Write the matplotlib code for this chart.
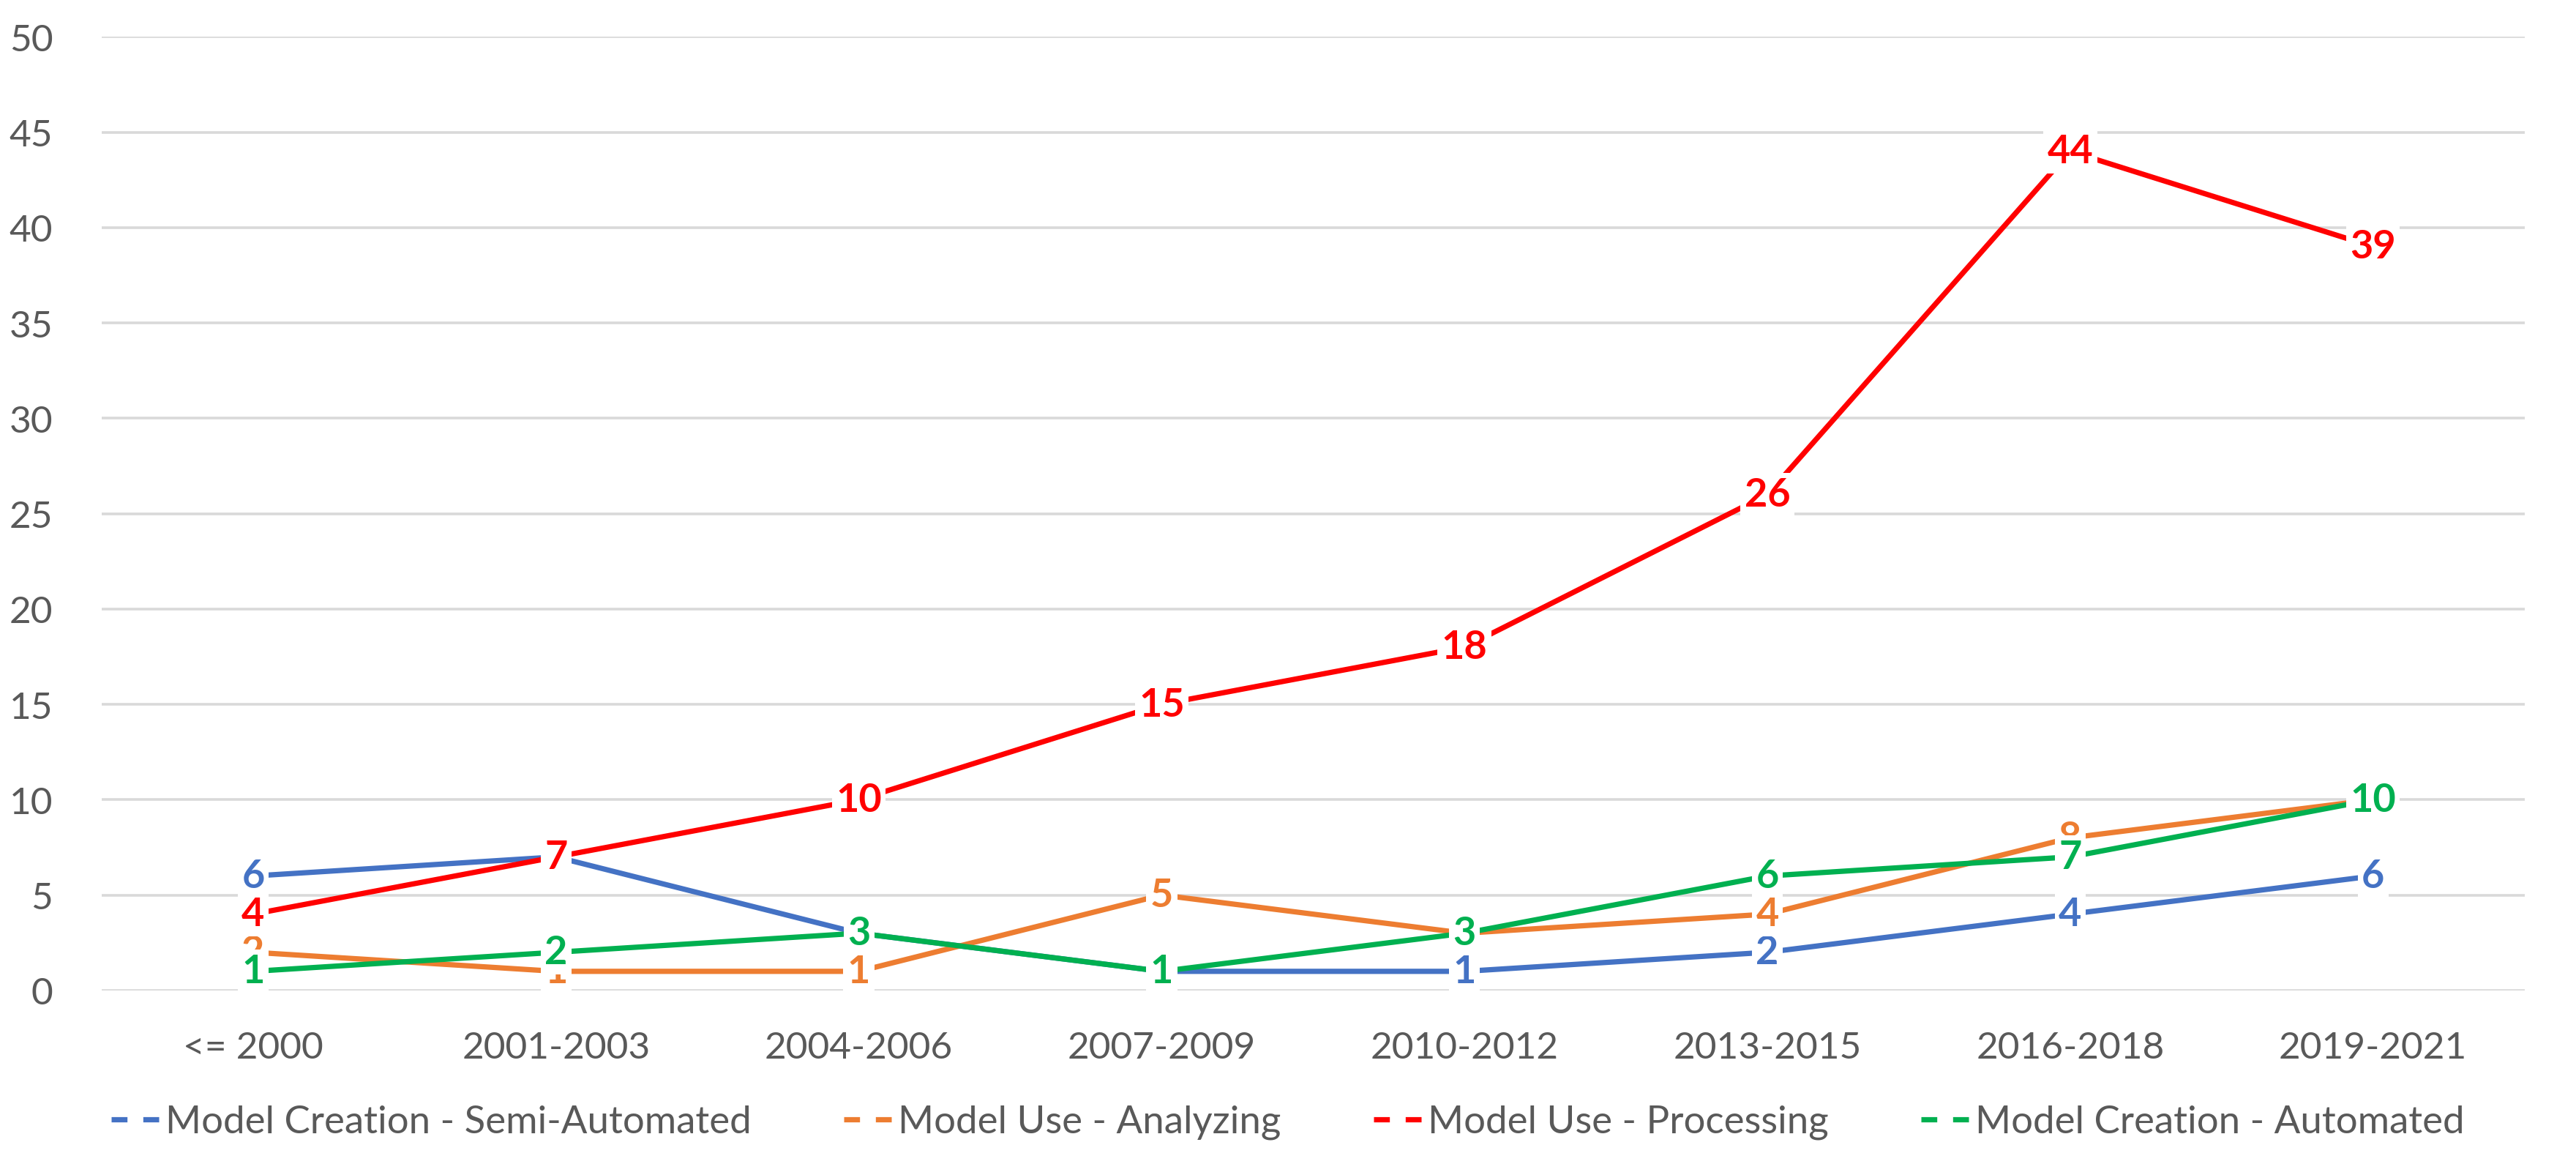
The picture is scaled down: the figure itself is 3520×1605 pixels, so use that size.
import matplotlib.pyplot as plt
from matplotlib.lines import Line2D

categories = ['<= 2000', '2001-2003', '2004-2006', '2007-2009',
              '2010-2012', '2013-2015', '2016-2018', '2019-2021']

semi_automated = [6, 7, 3, 1, 1, 2, 4, 6]
analyzing = [2, 1, 1, 5, 3, 4, 8, 10]
processing = [4, 7, 10, 15, 18, 26, 44, 39]
automated = [1, 2, 3, 1, 3, 6, 7, 10]

series_names = ['Model Creation - Semi-Automated', 'Model Use - Analyzing',
                'Model Use - Processing', 'Model Creation - Automated']
series_values = [semi_automated, analyzing, processing, automated]
series_colors = ['#4472C4', '#ED7D31', '#FF0000', '#00B050']

plt.rcParams['font.family'] = ['Lato', 'DejaVu Sans']
text_color = '#595959'

fig = plt.figure(figsize=(17.6, 8.03), dpi=200)
ax = fig.add_axes([0.0395, 0.157, 0.9405, 0.811])

x = list(range(len(categories)))

# lines first, labels on top in series order
for vals, color in zip(series_values, series_colors):
    ax.plot(x, vals, color=color, lw=2.6, solid_capstyle='round', zorder=2)

for vals, color in zip(series_values, series_colors):
    for xi, v in zip(x, vals):
        ax.text(xi, v, str(v), color=color, fontsize=19.5, fontweight='bold',
                ha='center', va='center', zorder=5,
                bbox=dict(boxstyle='square,pad=0.1', fc='white', ec='none'))

ax.set_xlim(-0.5, len(categories) - 0.5)
ax.set_ylim(0, 50)
ax.set_yticks(range(0, 51, 5))
ax.set_xticks(x)
ax.set_xticklabels(categories)
ax.tick_params(axis='both', length=0, labelsize=18.5, labelcolor=text_color)
ax.tick_params(axis='y', pad=24)
ax.tick_params(axis='x', pad=20)
ax.grid(axis='y', color='#D9D9D9', lw=1.3)
ax.set_axisbelow(True)
for s in ax.spines.values():
    s.set_visible(False)

handles = [Line2D([0], [0], color=c, lw=2.6, linestyle=(0, (3, 3)))
           for c in series_colors]
fig.legend(handles, series_names, loc='center', bbox_to_anchor=(0.5, 0.045),
           ncol=4, frameon=False, fontsize=19, labelcolor=text_color,
           handlelength=1.25, handletextpad=0.15, columnspacing=2.4)

fig.savefig('out.png', dpi=200)
